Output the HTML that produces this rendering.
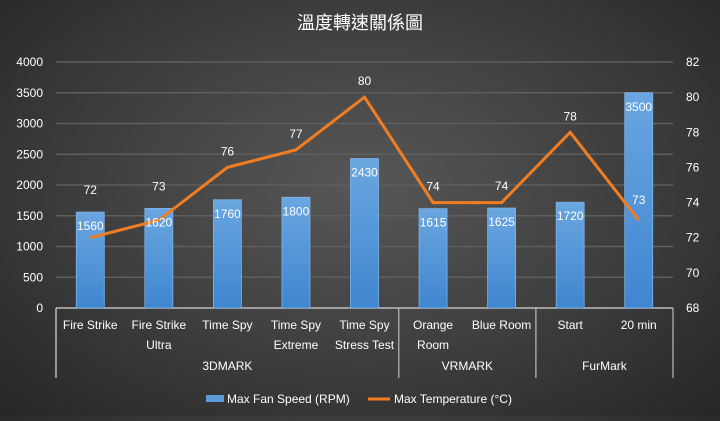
<!DOCTYPE html>
<html><head><meta charset="utf-8"><style>
html,body{margin:0;padding:0}
body{width:720px;height:416px;overflow:hidden;background:radial-gradient(ellipse at 50% 45%,#575757 0%,#424242 45%,#262626 100%);font-family:"Liberation Sans","Noto Sans CJK TC",sans-serif}
svg text{font-family:"Liberation Sans","Noto Sans CJK TC",sans-serif;fill:#fff}
</style></head><body>
<svg id="c" width="720" height="416">
<defs><linearGradient id="bg" x1="0" y1="0" x2="0" y2="1"><stop offset="0" stop-color="#6aa6e0"/><stop offset="1" stop-color="#3f86d0"/></linearGradient></defs>
<text x="360" y="29" text-anchor="middle" font-size="18">溫度轉速關係圖</text>
<g id="grid"></g><g id="bars"></g><g id="line"></g><g id="labels"></g>
</svg>
<script>
const categories=["Fire Strike","Fire Strike|Ultra","Time Spy","Time Spy|Extreme","Time Spy|Stress Test","Orange|Room","Blue Room","Start","20 min"];
const fanSpeed=[1560,1620,1760,1800,2430,1615,1625,1720,3500];
const maxTemp=[72,73,76,77,80,74,74,78,73];
const leftTicks=[0,500,1000,1500,2000,2500,3000,3500,4000];
const rightTicks=[68,70,72,74,76,78,80,82];
const groups=[["3DMARK",0,5],["VRMARK",5,7],["FurMark",7,9]];
const NS="http://www.w3.org/2000/svg";
const X0=56,X1=673,Y0=308,Y1=62,n=categories.length,step=(X1-X0)/n;
const xc=i=>X0+step*(i+0.5);
const yL=v=>Y0-(v-0)/(4000-0)*(Y0-Y1);
const yR=v=>Y0-(v-68)/(82-68)*(Y0-Y1);
function mk(t,a,p,txt){const e=document.createElementNS(NS,t);for(const k in a)e.setAttribute(k,a[k]);if(txt!=null)e.textContent=txt;p.appendChild(e);return e;}
const g=document.getElementById('grid'),b=document.getElementById('bars'),l=document.getElementById('line'),lb=document.getElementById('labels');
leftTicks.forEach(v=>{const y=yL(v);
 if(v>0){const gl=mk('line',{x1:X0,x2:X1,y1:y,y2:y,stroke:'#5e5e5e','stroke-width':1.5},g);
 
 }
 const t=mk('text',{x:43,y:y+4,'text-anchor':'end','font-size':12},g,v);
 
 });
rightTicks.forEach(v=>{const t=mk('text',{x:686,y:yR(v)+4,'font-size':12},g,v);
 
 });
mk('line',{x1:X0,x2:X0,y1:Y0,y2:378,stroke:'#bbb','stroke-width':1.5},g);
mk('line',{x1:X0,x2:X1,y1:Y0,y2:Y0,stroke:'#bbb','stroke-width':1.5},g);
groups.forEach(gr=>{const xe=X0+step*gr[2];
 mk('line',{x1:xe,x2:xe,y1:Y0,y2:378,stroke:'#bbb','stroke-width':1.2},g);
 const t=mk('text',{x:(X0+step*gr[1]+xe)/2,y:370,'text-anchor':'middle','font-size':12},g,gr[0]);
 
 });
categories.forEach((c,i)=>{c.split('|').forEach((s,k)=>{const t=mk('text',{x:xc(i),y:329+k*20,'text-anchor':'middle','font-size':12},g,s);
 
 });});
fanSpeed.forEach((v,i)=>{const r=mk('rect',{x:xc(i)-14,y:yL(v),width:28,height:Y0-yL(v),fill:'url(#bg)',stroke:'#7db5ea','stroke-width':0.8},b);
 
 
 const t=mk('text',{x:xc(i),y:yL(v)+18,'text-anchor':'middle','font-size':12},lb,v);
 
 });
const pl=mk('polyline',{points:maxTemp.map((v,i)=>xc(i)+','+yR(v)).join(' '),fill:'none',stroke:'#f07d22','stroke-width':3,'stroke-linejoin':'miter'},l);


maxTemp.forEach((v,i)=>{const py=yR(v),bt=yL(fanSpeed[i]);
 let ly=py-12;
 if(py>bt+60) ly=py-16;
 else if(py>bt-14) ly=bt-18;
 const t=mk('text',{x:xc(i),y:ly,'text-anchor':'middle','font-size':12},lb,v);
 
 });
const lg=mk('g',{},document.getElementById('c'));


mk('rect',{x:206,y:395,width:18,height:7,fill:'#5b9bd8'},lg);
mk('text',{x:227,y:403,'font-size':12},lg,'Max Fan Speed (RPM)');
mk('line',{x1:368,x2:390,y1:399,y2:399,stroke:'#f07d22','stroke-width':3},lg);
mk('text',{x:394,y:403,'font-size':12},lg,'Max Temperature (°C)');
</script>
</body></html>
